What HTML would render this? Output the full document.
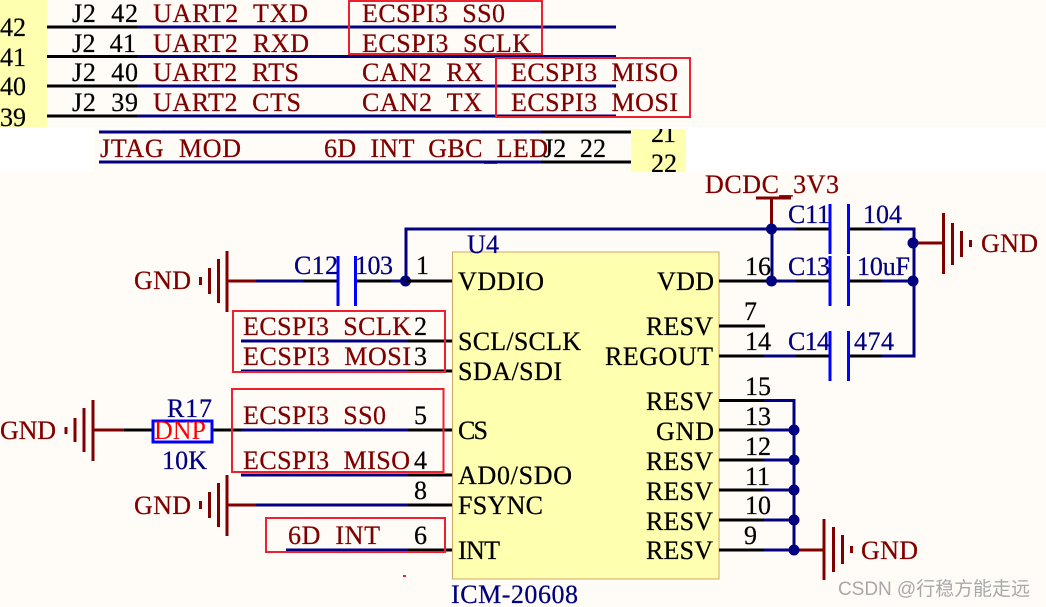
<!DOCTYPE html>
<html><head><meta charset="utf-8">
<style>
html,body{margin:0;padding:0;background:#fff;width:1046px;height:607px;overflow:hidden}
svg{display:block}
text{font-family:"Liberation Serif","Noto Serif CJK SC",serif;font-size:26px;white-space:pre;stroke-width:.25px}
.k{fill:#000;stroke:#000}.r{fill:#800000;stroke:#800000}.b{fill:#000080;stroke:#000080}
.wk{stroke:#000;stroke-width:3;fill:none}
.wb{stroke:#000080;stroke-width:3;fill:none}
.wr{stroke:#800000;stroke-width:3;fill:none}
.p{stroke:#0000ff;stroke-width:3;fill:none}
.g{stroke:#800000;stroke-width:3;fill:none}
.x{stroke:#ee2030;stroke-width:2;fill:none}
</style></head><body>
<svg width="1046" height="607" viewBox="0 0 1046 607" xmlns="http://www.w3.org/2000/svg">
<defs>
<clipPath id="c1"><rect x="0" y="0" width="47" height="127"/></clipPath>
<clipPath id="c2"><rect x="631" y="129" width="55" height="43"/></clipPath>
</defs>
<rect x="47" y="0" width="999" height="127" fill="#fffcf8"/>
<rect x="94" y="129" width="537" height="43" fill="#fffcf8"/>
<rect x="0" y="172" width="1046" height="435" fill="#fffcf8"/>
<rect x="0" y="0" width="47" height="127" fill="#ffffb0"/>
<rect x="631" y="129" width="55" height="43" fill="#ffffb0"/>
<rect x="452.5" y="252" width="266.500" height="327" fill="#ffffb0" stroke="#d0a868" stroke-width="1"/>

<!-- top wires -->
<path class="wk" d="M47 27H137M47 56.500H137M47 86H137M47 116H137"/>
<path class="wb" d="M137 27H616M137 56.500H616M137 86H616M137 116H616"/>
<path class="wb" d="M99 132H541M99 162H541"/>
<path class="wk" d="M541 132H631M541 162H631"/>
<path d="M484 163.500H497" stroke="#c00000" stroke-width="1"/>

<g clip-path="url(#c1)" class="k">
<text x="0" y="36" textLength="26">42</text>
<text x="0" y="66" textLength="26">41</text>
<text x="0" y="95" textLength="26">40</text>
<text x="0" y="126" textLength="26">39</text>
</g>
<g clip-path="url(#c2)" class="k">
<text x="651" y="142" textLength="25">21</text>
<text x="651" y="172" textLength="26">22</text>
</g>

<g class="k">
<text x="72" y="22" textLength="66">J2  42</text>
<text x="72" y="52" textLength="64">J2  41</text>
<text x="72" y="81" textLength="66">J2  40</text>
<text x="72" y="111" textLength="66">J2  39</text>
<text x="543" y="157" textLength="63">J2  22</text>
</g>
<g class="r">
<text x="153" y="22" textLength="155">UART2  TXD</text>
<text x="153" y="52" textLength="156">UART2  RXD</text>
<text x="153" y="81" textLength="146">UART2  RTS</text>
<text x="153" y="111" textLength="148">UART2  CTS</text>
<text x="362" y="22" textLength="143">ECSPI3  SS0</text>
<text x="362" y="52" textLength="169">ECSPI3  SCLK</text>
<text x="362" y="81" textLength="121">CAN2  RX</text>
<text x="362" y="111" textLength="120">CAN2  TX</text>
<text x="511" y="81" textLength="167">ECSPI3  MISO</text>
<text x="511" y="111" textLength="167">ECSPI3  MOSI</text>
<text x="100" y="157" textLength="141">JTAG  MOD</text>
<text x="324" y="157" textLength="224">6D  INT  GBC  LED</text>
</g>
<rect x="349" y="1" width="193" height="53" class="x"/>
<rect x="496" y="58" width="194" height="59" class="x"/>

<!-- VDD rail -->
<path class="wb" d="M406 281V229H796M772 229V281M772 281H796M882 229H914V356H882M882 281H914M764 356H796M764 400.500H794V550M764 430H794M764 460H794M764 490H794M764 520H794M764 550H794"/>
<path class="wk" d="M796 229H830M850 229H882M719 281H772M796 281H830M850 281H882M719 326H765M719 356H764M796 356H830M850 356H882M719 400.500H764M719 430H764M719 460H764M719 490H764M719 520H764M719 550H764"/>
<path class="p" d="M830 204V254M848.500 204V254M830 256V306M848.500 256V306M830 331V381M848.500 331V381"/>
<path class="wr" d="M771.500 198V229M756 198H791M914 243H943M794 550H824"/>
<g fill="#000080">
<circle cx="771.500" cy="229" r="5.500"/><circle cx="771.500" cy="281" r="5.500"/>
<circle cx="913" cy="243" r="5.500"/><circle cx="913" cy="281" r="5.500"/>
<circle cx="794" cy="430" r="5.500"/><circle cx="794" cy="460" r="5.500"/>
<circle cx="794" cy="490" r="5.500"/><circle cx="794" cy="520" r="5.500"/><circle cx="794" cy="550" r="5.500"/>
<circle cx="405.500" cy="281" r="5.500"/>
</g>
<path class="g" d="M943.500 213V274M952.500 223V265M961.500 231V257M970.500 240V247"/>
<path class="g" d="M824 519V580M833.500 527V572M842.500 535V564M851.500 546V553"/>

<!-- left wires -->
<path class="wr" d="M227 281H256M227 505H256M93 430H124"/>
<path class="wb" d="M256 281H303M391 281H406M241 341H408M241 371H408M241 430H408M241 475H408M256 505H408M286 550H408"/>
<path class="wk" d="M303 281H338M357 281H391M406 281H452M408 341H452M408 371H452M124 430H152M212 430H241M408 430H452M408 475H452M408 505H452M408 550H452"/>
<path class="p" d="M338 256V306M355.500 256V306"/>
<path class="g" d="M227 251V312M218.500 259V303M209.500 268V294M200.500 277V285"/>
<path class="g" d="M227 475V536M218.500 483V527M209.500 492V518M200.500 501V509"/>
<path class="g" d="M93 400V461M84 408V452M75 418V442M66 427V434"/>
<rect x="153" y="421" width="59" height="21" fill="none" stroke="#0000ff" stroke-width="3"/>
<rect x="233" y="311" width="212" height="61" class="x"/>
<rect x="232" y="389" width="211.500" height="83" class="x"/>
<rect x="266" y="518" width="179" height="34" class="x"/>
<rect x="403" y="575" width="3" height="2" fill="#ee2030"/>

<g class="r">
<text x="134" y="289" textLength="57">GND</text>
<text x="134" y="514" textLength="57">GND</text>
<text x="0" y="439" textLength="56">GND</text>
<text x="981" y="252" textLength="57">GND</text>
<text x="861" y="559" textLength="57">GND</text>
<text x="705" y="193" textLength="134">DCDC_3V3</text>
<text x="243" y="335" textLength="168">ECSPI3  SCLK</text>
<text x="243" y="365" textLength="168">ECSPI3  MOSI</text>
<text x="243" y="424" textLength="143">ECSPI3  SS0</text>
<text x="243" y="469" textLength="167">ECSPI3  MISO</text>
<text x="288" y="544" textLength="92">6D  INT</text>
</g>
<text x="154" y="439" textLength="52" fill="#ff0000">DNP</text>
<g class="b">
<text x="294" y="274" textLength="44">C12</text>
<text x="355" y="274" textLength="38">103</text>
<text x="167" y="417" textLength="45">R17</text>
<text x="162" y="469" textLength="45">10K</text>
<text x="467" y="253" textLength="32">U4</text>
<text x="451" y="603" textLength="127">ICM-20608</text>
<text x="788" y="223" textLength="42">C11</text>
<text x="863" y="223" textLength="39">104</text>
<text x="788" y="275" textLength="42">C13</text>
<text x="857" y="275" textLength="53">10uF</text>
<text x="788" y="350" textLength="42">C14</text>
<text x="854" y="350" textLength="40">474</text>
</g>
<g class="k">
<text x="416" y="274">1</text>
<text x="414" y="335">2</text>
<text x="414" y="365">3</text>
<text x="414" y="424">5</text>
<text x="414" y="469">4</text>
<text x="414" y="499">8</text>
<text x="414" y="544">6</text>
<text x="458" y="290" textLength="86">VDDIO</text>
<text x="458" y="350" textLength="123">SCL/SCLK</text>
<text x="458" y="380" textLength="104">SDA/SDI</text>
<text x="458" y="439" textLength="30">CS</text>
<text x="458" y="484" textLength="114">AD0/SDO</text>
<text x="458" y="514" textLength="85">FSYNC</text>
<text x="458" y="559" textLength="42">INT</text>
<text x="657" y="290" textLength="57">VDD</text>
<text x="646" y="335" textLength="67">RESV</text>
<text x="605" y="365" textLength="108">REGOUT</text>
<text x="646" y="410" textLength="67">RESV</text>
<text x="656" y="440" textLength="58">GND</text>
<text x="646" y="470" textLength="67">RESV</text>
<text x="646" y="500" textLength="67">RESV</text>
<text x="646" y="530" textLength="67">RESV</text>
<text x="646" y="559" textLength="67">RESV</text>
<text x="745" y="275">16</text>
<text x="744" y="320">7</text>
<text x="745" y="350">14</text>
<text x="745" y="395">15</text>
<text x="745" y="425">13</text>
<text x="745" y="455">12</text>
<text x="745" y="485">11</text>
<text x="745" y="514">10</text>
<text x="744" y="544">9</text>
</g>
<text x="838" y="595" textLength="192" style="font-family:'Liberation Sans','Noto Sans CJK SC',sans-serif;font-size:19px" fill="#a8a8a8">CSDN @行稳方能走远</text>
</svg>
</body></html>
